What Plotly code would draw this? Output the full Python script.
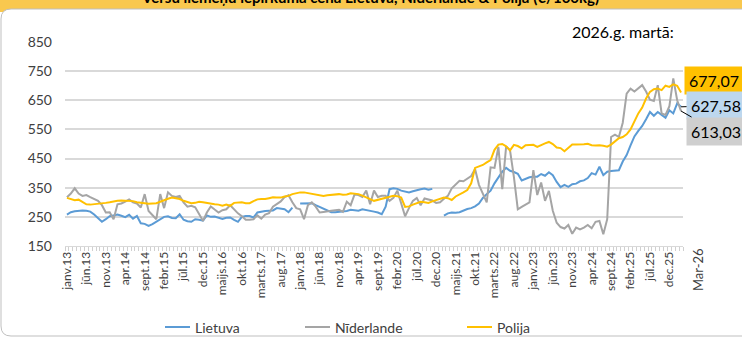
import plotly.graph_objects as go

# Monthly carcass purchase prices, Jan 2013 .. Mar 2026 (EUR/100 kg)
lietuva = [
    258, 266, 269, 271, 272, 271, 268, 258, 246, 233, 242, 252,   # 2013
    255, 258, 254, 249, 257, 244, 253, 228, 226, 219, 225, 233,   # 2014
    242, 250, 252, 246, 245, 259, 240, 235, 233, 242, 240, 237,   # 2015
    255, 250, 251, 246, 243, 247, 248, 240, 233, 250, 253, 253,   # 2016
    248, 265, 268, 270, 271, 272, 280, 278, 276, 266, 282, None,  # 2017
    296, 296, 297, 297, 290, 284, 280, 272, 266, 266, 267, 267,   # 2018
    270, 274, 272, 271, 276, 274, 271, 268, 265, 259, 285, 345,   # 2019
    348, 346, 340, 338, 334, 338, 342, 345, 347, 343, 346, None,  # 2020
    None, 254, 262, 265, 264, 266, 272, 277, 280, 286, 296, 315,  # 2021
    328, 340, 365, 385, 405, 418, 408, 404, 398, 375, 380, 386,   # 2022
    388, 388, 397, 391, 403, 393, 370, 352, 360, 353, 362, 364,   # 2023
    372, 375, 383, 400, 395, 422, 393, 405, 407, 408, 410, 440,   # 2024
    462, 495, 526, 545, 562, 585, 610, 597, 610, 600, 590, 616,   # 2025
    605, 639, 627.58,                                             # 2026
]
niderlande = [
    317, 330, 348, 330, 322, 325, 318, 311, 305, 290, 265, 266,   # 2013
    242, 293, 296, 302, 310, 300, 296, 282, 328, 270, 255, 242,   # 2014
    328, 280, 334, 322, 318, 322, 300, 285, 288, 283, 260, 236,   # 2015
    265, 286, 275, 265, 273, 276, 290, 275, 262, 252, 240, 240,   # 2016
    242, 255, 244, 258, 263, 285, 295, 303, 318, 324, 300, 280,   # 2017
    276, 242, 290, 300, 285, 265, 267, 270, 271, 273, 274, 267,   # 2018
    302, 290, 327, 325, 318, 340, 293, 340, 318, 322, 322, 305,   # 2019
    315, 340, 300, 252, 280, 305, 315, 290, 313, 310, 306, 298,   # 2020
    300, 312, 322, 348, 360, 374, 372, 380, 390, 414, 360, 330,   # 2021
    300, 420, 418, 490, 345, 492, 478, 386, 276, 284, 292, 300,   # 2022
    410, 325, 368, 305, 339, 271, 230, 215, 210, 222, 192, 213,   # 2023
    207, 213, 222, 211, 233, 236, 190, 242, 524, 532, 524, 573,   # 2024
    673, 690, 680, 690, 702, 680, 652, 648, 702, 605, 600, 630,   # 2025
    725, 650, 613.03,                                             # 2026
]
polija = [
    315, 310, 307, 309, 300, 293, 292, 293, 295, 297, 298, 300,   # 2013
    303, 305, 306, 305, 303, 304, 300, 298, 297, 295, 296, 297,   # 2014
    302, 308, 312, 316, 314, 311, 305, 300, 297, 298, 302, 300,   # 2015
    297, 294, 293, 292, 288, 292, 288, 298, 300, 300, 297, 297,   # 2016
    304, 310, 311, 311, 314, 317, 316, 316, 320, 322, 328, 332,   # 2017
    334, 334, 332, 330, 326, 324, 322, 324, 325, 327, 328, 326,   # 2018
    327, 331, 330, 328, 323, 318, 311, 305, 308, 312, 316, 319,   # 2019
    322, 321, 316, 284, 286, 292, 296, 302, 300, 298, 303, 308,   # 2020
    312, 316, 314, 308, 320, 326, 334, 342, 365, 418, 424, 428,   # 2021
    437, 445, 480, 498, 500, 492, 478, 497, 493, 485, 496, 497,   # 2022
    497, 490, 497, 502, 507, 500, 488, 486, 475, 488, 498, 498,   # 2023
    498, 499, 501, 496, 495, 496, 494, 491, 498, 508, 520, 524,   # 2024
    533, 550, 580, 605, 625, 656, 679, 688, 690, 685, 700, 696,   # 2025
    705, 700, 677.07,                                             # 2026
]

tick_labels = [
    "janv.13", "jūn.13", "nov.13", "apr.14", "sept.14", "febr.15", "jūl.15",
    "dec.15", "maijs.16", "okt.16", "marts.17", "aug.17", "janv.18", "jūn.18",
    "nov.18", "apr.19", "sept.19", "febr.20", "jūl.20", "dec.20", "maijs.21",
    "okt.21", "marts.22", "aug.22", "janv.23", "jūn.23", "nov.23", "apr.24",
    "sept.24", "febr.25", "jūl.25", "dec.25",
]
last_label = "Mar-26"
series_names = ["Lietuva", "Nīderlande", "Polija"]
series_colors = ["#5B9BD5", "#A5A5A5", "#FFC000"]
box_colors = ["#BDD7EE", "#CFCFCF", "#FFC000"]

n = len(lietuva)
idx = list(range(n))
tick_positions = [5 * k for k in range(len(tick_labels))]

FONT = "Lato"
W, H = 742, 338
ML, MR, MT, MB = 65, 59, 42, 92
PW, PH = W - ML - MR, H - MT - MB


def px(x):
    return (x - ML) / PW


def py(y):
    return (H - MB - y) / PH


fig = go.Figure()
for name, vals, col in zip(series_names, [lietuva, niderlande, polija], series_colors):
    fig.add_trace(go.Scatter(
        x=idx, y=vals, mode="lines", name=name,
        line=dict(color=col, width=2), connectgaps=False, showlegend=False,
    ))

# header strip and rounded white panel
x0, y0, x1, y1, r = 1, 9, 780, 336, 10
panel = (f"M {px(x0)},{py(y0 + r)} Q {px(x0)},{py(y0)} {px(x0 + r)},{py(y0)} "
         f"L {px(x1)},{py(y0)} L {px(x1)},{py(y1)} L {px(x0 + r)},{py(y1)} "
         f"Q {px(x0)},{py(y1)} {px(x0)},{py(y1 - r)} Z")
shapes = [
    dict(type="rect", xref="paper", yref="paper", x0=px(-10), x1=px(760),
         y0=py(12), y1=py(-10), fillcolor="#F9C84E", line=dict(width=0), layer="below"),
    dict(type="path", xref="paper", yref="paper", path=panel,
         fillcolor="white", line=dict(color="#BFBFBF", width=1), layer="below"),
]

annotations = [
    dict(text="<b>Vēršu liemeņu iepirkuma cena Lietuvā, Nīderlandē & Polijā (€/100kg)</b>",
         xref="paper", yref="paper", x=px(370), y=py(-3), showarrow=False,
         xanchor="center", yanchor="middle", font=dict(family=FONT, size=15, color="#000")),
    dict(text="2026.g. martā:", xref="paper", yref="paper", x=px(676), y=py(32),
         showarrow=False, xanchor="right", yanchor="middle",
         font=dict(family=FONT, size=16, color="#000")),
    dict(text=last_label, xref="x", yref="paper", x=n - 1, y=py(270), xshift=17,
         showarrow=False, textangle=-90, xanchor="center", yanchor="middle",
         font=dict(family=FONT, size=13, color="#404040")),
]

# legend drawn as key lines with text beside them
legend_x = [165, 305, 467]
legend_y = 327
for name, col, lx in zip(series_names, series_colors, legend_x):
    shapes.append(dict(type="line", xref="paper", yref="paper",
                       x0=px(lx), x1=px(lx + 25), y0=py(legend_y), y1=py(legend_y),
                       line=dict(color=col, width=2)))
    annotations.append(dict(text=name, xref="paper", yref="paper", x=px(lx + 28),
                            y=py(legend_y), xanchor="left", yanchor="middle",
                            showarrow=False,
                            font=dict(family=FONT, size=14, color="#404040")))

fmt = lambda v: f"{v:.2f}".replace(".", ",")
last_lt, last_nl, last_pl = lietuva[-1], niderlande[-1], polija[-1]
annotations += [
    dict(text=fmt(last_pl), x=n - 1, y=last_pl, xref="x", yref="y",
         showarrow=False, xshift=33, yshift=12, bgcolor=box_colors[2], borderpad=4,
         font=dict(family=FONT, size=16, color="#000")),
    dict(text=fmt(last_lt), x=n - 1, y=last_lt, xref="x", yref="y",
         showarrow=True, ax=35, ay=-1, arrowhead=0, arrowwidth=1, arrowcolor="#000",
         standoff=0, bgcolor=box_colors[0], borderpad=4,
         font=dict(family=FONT, size=16, color="#000")),
    dict(text=fmt(last_nl), x=n - 1, y=last_nl, xref="x", yref="y",
         showarrow=True, ax=35, ay=20, arrowhead=0, arrowwidth=1, arrowcolor="#000",
         standoff=0, bgcolor=box_colors[1], borderpad=4,
         font=dict(family=FONT, size=16, color="#000")),
]

fig.update_layout(
    width=W, height=H,
    margin=dict(l=ML, r=MR, t=MT, b=MB, pad=0, autoexpand=False),
    paper_bgcolor="white", plot_bgcolor="rgba(0,0,0,0)",
    font=dict(family=FONT, color="#404040"),
    shapes=shapes, annotations=annotations,
    showlegend=False,
    xaxis=dict(
        range=[-0.5, n - 0.5], tickmode="array", tickvals=tick_positions,
        ticktext=tick_labels, tickangle=-90, ticks="", showgrid=False,
        zeroline=False, showline=True, linecolor="#D9D9D9", linewidth=1,
        tickfont=dict(family=FONT, size=12, color="#404040"),
        minor=dict(ticks="outside", ticklen=4, tickcolor="#D0D0D0", tick0=-0.5,
                   dtick=1, showgrid=False),
    ),
    yaxis=dict(
        range=[150, 850], tick0=150, dtick=100, showgrid=True,
        gridcolor="#D9D9D9", gridwidth=1.5, zeroline=False, showline=False,
        ticks="", ticklabelstandoff=12,
        tickfont=dict(family=FONT, size=14, color="#404040"),
    ),
)

fig.write_html("out.html")
